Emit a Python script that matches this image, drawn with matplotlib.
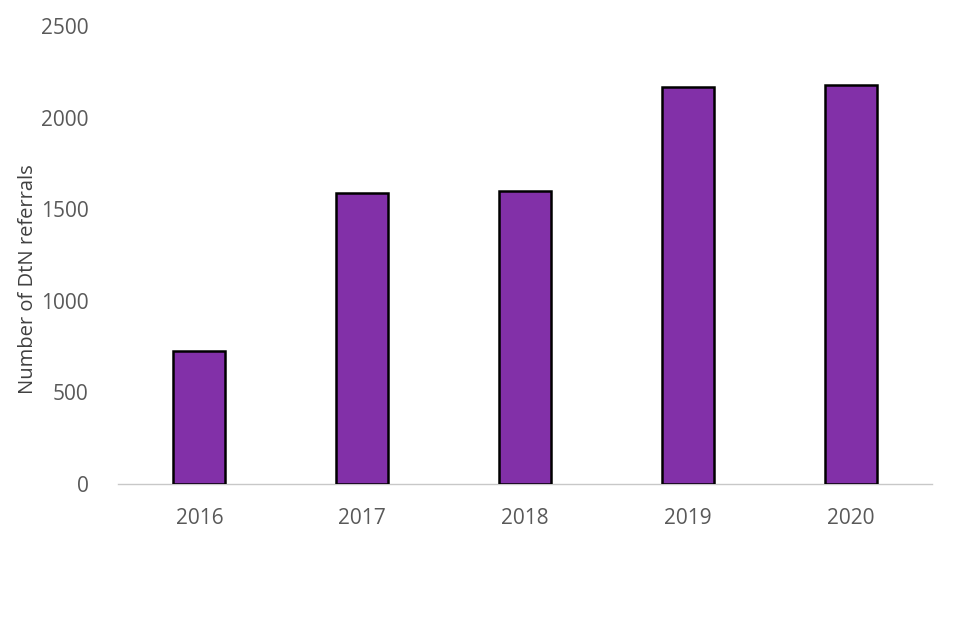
import matplotlib
matplotlib.use("Agg")
import matplotlib.pyplot as plt

years = ["2016", "2017", "2018", "2019", "2020"]
referrals = [726, 1588, 1599, 2165, 2178]
yticks = [0, 500, 1000, 1500, 2000, 2500]

plt.rcParams['font.family'] = ['Open Sans', 'DejaVu Sans']

fig = plt.figure(figsize=(9.6, 6.4), dpi=100)
ax = fig.add_axes([118/960, 1-484/640, (932-118)/960, (484-26)/640])

ax.bar(years, referrals, width=0.32, color="#8230A8", edgecolor="black", linewidth=1.8, zorder=3)

ax.set_ylim(0, 2500)
ax.set_xlim(-0.5, 4.5)
ax.set_yticks(yticks)
ax.set_yticklabels([str(t) for t in yticks])
for s in ["top", "right", "left"]:
    ax.spines[s].set_visible(False)
ax.spines["bottom"].set_color("#C8C8C8")
ax.spines["bottom"].set_linewidth(1.0)
ax.tick_params(axis="both", length=0, labelsize=15, labelcolor="#595959")
ax.tick_params(axis="y", pad=21)
ax.tick_params(axis="x", pad=17)
ax.set_ylabel("Number of DtN referrals", fontsize=14.5, color="#404040")
ax.yaxis.set_label_coords((38-118)/814, (484-279)/458)

fig.savefig("out.png", dpi=100, facecolor="white")
